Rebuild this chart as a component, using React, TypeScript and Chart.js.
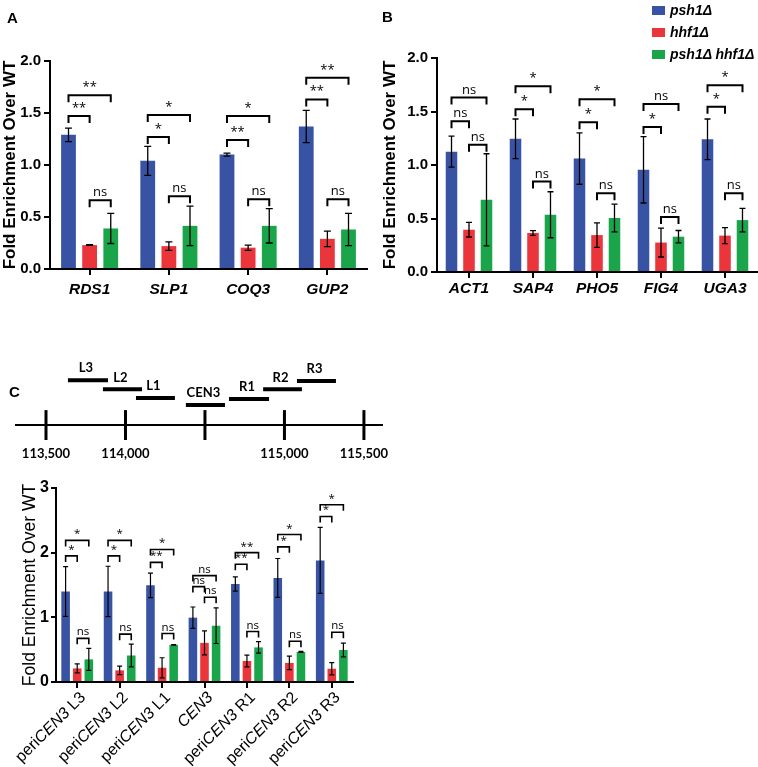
import React, { useEffect, useRef } from 'react';
import { Chart, registerables } from 'chart.js';

Chart.register(...registerables);
Chart.defaults.color = '#000';

const SANS = "'Liberation Sans', Arial, Helvetica, sans-serif";
const SIG_FONT = "'Open Sans', 'Liberation Sans', sans-serif";
const DIAG_FONT = "Lato, 'Open Sans', sans-serif";

const COLORS = ['#3853a4', '#ea353b', '#1ba54b'];
const SERIES = ['psh1Δ', 'hhf1Δ', 'psh1Δ hhf1Δ'];
// comparison pairs: psh1Δ vs hhf1Δ, psh1Δ vs double, hhf1Δ vs double
const PAIRS = [[0, 1], [0, 2], [1, 2]];

// ---------- Panel A ----------
const A_CATEGORIES = ['RDS1', 'SLP1', 'COQ3', 'GUP2'];
const A_PSH1 = [1.29, 1.04, 1.1, 1.37];
const A_PSH1_ERR = [0.065, 0.14, 0.015, 0.155];
const A_HHF1 = [0.23, 0.22, 0.205, 0.29];
const A_HHF1_ERR = [0.003, 0.04, 0.025, 0.075];
const A_DOUBLE = [0.39, 0.415, 0.415, 0.38];
const A_DOUBLE_ERR = [0.145, 0.19, 0.165, 0.155];
const A_SIG = [['**', '**', 'ns'], ['*', '*', 'ns'], ['**', '*', 'ns'], ['**', '**', 'ns']];
const A_SIG_Y = [[1.47, 1.67, 0.66], [1.27, 1.48, 0.7], [1.24, 1.47, 0.67], [1.63, 1.84, 0.67]];

// ---------- Panel B ----------
const B_CATEGORIES = ['ACT1', 'SAP4', 'PHO5', 'FIG4', 'UGA3'];
const B_PSH1 = [1.125, 1.245, 1.06, 0.955, 1.24];
const B_PSH1_ERR = [0.145, 0.185, 0.24, 0.31, 0.19];
const B_HHF1 = [0.395, 0.365, 0.345, 0.275, 0.34];
const B_HHF1_ERR = [0.068, 0.022, 0.115, 0.135, 0.075];
const B_DOUBLE = [0.675, 0.535, 0.505, 0.33, 0.485];
const B_DOUBLE_ERR = [0.43, 0.215, 0.13, 0.058, 0.11];
const B_SIG = [['ns', 'ns', 'ns'], ['*', '*', 'ns'], ['*', '*', 'ns'], ['*', 'ns', 'ns'], ['*', '*', 'ns']];
const B_SIG_Y = [[1.41, 1.63, 1.19], [1.52, 1.735, 0.845], [1.4, 1.615, 0.735], [1.355, 1.57, 0.515], [1.545, 1.745, 0.735]];

// ---------- Panel C (bars) ----------
const C_CATEGORIES = ['periCEN3 L3', 'periCEN3 L2', 'periCEN3 L1', 'CEN3', 'periCEN3 R1', 'periCEN3 R2', 'periCEN3 R3'];
const C_PSH1 = [1.4, 1.4, 1.495, 0.995, 1.515, 1.61, 1.88];
const C_PSH1_ERR = [0.385, 0.39, 0.19, 0.165, 0.11, 0.3, 0.51];
const C_HHF1 = [0.21, 0.18, 0.22, 0.605, 0.325, 0.295, 0.205];
const C_HHF1_ERR = [0.07, 0.065, 0.155, 0.185, 0.09, 0.105, 0.095];
const C_DOUBLE = [0.35, 0.41, 0.575, 0.87, 0.535, 0.465, 0.495];
const C_DOUBLE_ERR = [0.17, 0.175, 0.005, 0.275, 0.09, 0.008, 0.105];
const C_SIG = [['*', '*', 'ns'], ['*', '*', 'ns'], ['**', '*', 'ns'], ['ns', 'ns', 'ns'], ['**', '**', 'ns'], ['*', '*', 'ns'], ['*', '*', 'ns']];
const C_SIG_Y = [[1.95, 2.19, 0.675], [1.95, 2.19, 0.74], [1.85, 2.05, 0.75], [1.475, 1.645, 1.31], [1.82, 2.0, 0.78], [2.09, 2.28, 0.63], [2.56, 2.74, 0.77]];

// ---------- Panel C (locus diagram, bp coordinates) ----------
const DIAG_TICKS = [113500, 114000, 114500, 115000, 115500];
const DIAG_TICK_LABELS = [113500, 114000, 115000, 115500];
const DIAG_NAMES = ['L3', 'L2', 'L1', 'CEN3', 'R1', 'R2', 'R3'];
const DIAG_START = [113638, 113858, 114066, 114380, 114651, 114866, 115079];
const DIAG_END = [113890, 114104, 114311, 114626, 114903, 115110, 115324];
const DIAG_TIER = [5.4, 4.3, 3.25, 2.4, 3.15, 4.3, 5.3];

type Box = { left: number; top: number; width: number; height: number };
type Spec = {
  box: Box;
  categories: string[];
  values: number[][];
  errors: number[][];
  sig: string[][];
  sigY: number[][];
  padding: { top: number; right: number; left: number; bottom: number };
  yAxisWidth: number;
  xAxisHeight: number;
  yMax: number;
  yStep: number;
  yDecimals: number;
  catPct: number;
  barPct: number;
  cap: number;
  errWidth: number;
  bracketWidth: number;
  leg: number;
  sigSize: number;
  sigGap: number;
  yTickSize: number;
  yTickLen: number;
  yTickPad: number;
  xTickSize: number;
  xTickPad: number;
  titleWeight: string;
  titleSize: number;
  titlePad: number;
  customX: boolean;
};

const SPEC_A: Spec = {
  box: { left: 0, top: 0, width: 375, height: 300 },
  categories: A_CATEGORIES,
  values: [A_PSH1, A_HHF1, A_DOUBLE],
  errors: [A_PSH1_ERR, A_HHF1_ERR, A_DOUBLE_ERR],
  sig: A_SIG,
  sigY: A_SIG_Y,
  padding: { top: 61, right: 8, left: 0, bottom: 0 },
  yAxisWidth: 50,
  xAxisHeight: 31,
  yMax: 2,
  yStep: 0.5,
  yDecimals: 1,
  catPct: 0.8,
  barPct: 0.7,
  cap: 3.5,
  errWidth: 1.3,
  bracketWidth: 2,
  leg: 7,
  sigSize: 13,
  sigGap: 4,
  yTickSize: 15,
  yTickLen: 6,
  yTickPad: 3,
  xTickSize: 15.5,
  xTickPad: 5,
  titleWeight: 'bold',
  titleSize: 17,
  titlePad: 0,
  customX: false,
};

const SPEC_B: Spec = {
  ...SPEC_A,
  box: { left: 380, top: 0, width: 378, height: 300 },
  categories: B_CATEGORIES,
  values: [B_PSH1, B_HHF1, B_DOUBLE],
  errors: [B_PSH1_ERR, B_HHF1_ERR, B_DOUBLE_ERR],
  sig: B_SIG,
  sigY: B_SIG_Y,
  padding: { top: 58, right: 1, left: 0, bottom: 0 },
  yAxisWidth: 57,
  xAxisHeight: 28,
  catPct: 0.82,
  barPct: 0.66,
  cap: 3,
  xTickPad: 1,
};

const SPEC_C: Spec = {
  box: { left: 0, top: 470, width: 370, height: 297 },
  categories: C_CATEGORIES,
  values: [C_PSH1, C_HHF1, C_DOUBLE],
  errors: [C_PSH1_ERR, C_HHF1_ERR, C_DOUBLE_ERR],
  sig: C_SIG,
  sigY: C_SIG_Y,
  padding: { top: 18, right: 17, left: 0, bottom: 0 },
  yAxisWidth: 56,
  xAxisHeight: 85,
  yMax: 3,
  yStep: 1,
  yDecimals: 0,
  catPct: 0.82,
  barPct: 0.74,
  cap: 2.5,
  errWidth: 1.2,
  bracketWidth: 1.6,
  leg: 6,
  sigSize: 11.5,
  sigGap: 3,
  yTickSize: 16,
  yTickLen: 5,
  yTickPad: 2,
  xTickSize: 16,
  xTickPad: 0,
  titleWeight: 'normal',
  titleSize: 17.5,
  titlePad: 20,
  customX: true,
};

function splitLabel(label: string) {
  const idx = label.indexOf('CEN3');
  if (idx < 0) return [{ text: label, italic: false }];
  const parts = [] as { text: string; italic: boolean }[];
  if (idx > 0) parts.push({ text: label.slice(0, idx), italic: false });
  parts.push({ text: 'CEN3', italic: true });
  const rest = label.slice(idx + 4);
  if (rest) parts.push({ text: rest, italic: false });
  return parts;
}

function buildBarChart(canvas: HTMLCanvasElement, s: Spec) {
  const errorBars = {
    id: 'errorBars',
    afterDatasetsDraw(chart: any) {
      const ctx = chart.ctx;
      const y = chart.scales.y;
      ctx.save();
      ctx.strokeStyle = '#000';
      ctx.lineWidth = s.errWidth;
      s.values.forEach((vals, i) => {
        const meta = chart.getDatasetMeta(i);
        meta.data.forEach((bar: any, j: number) => {
          const v = vals[j];
          const e = s.errors[i][j];
          const top = y.getPixelForValue(v + e);
          const bot = y.getPixelForValue(v - e);
          const x = bar.x;
          ctx.beginPath();
          ctx.moveTo(x, top);
          ctx.lineTo(x, bot);
          ctx.moveTo(x - s.cap, top);
          ctx.lineTo(x + s.cap, top);
          ctx.moveTo(x - s.cap, bot);
          ctx.lineTo(x + s.cap, bot);
          ctx.stroke();
        });
      });
      ctx.restore();
    },
  };
  const brackets = {
    id: 'brackets',
    afterDatasetsDraw(chart: any) {
      const ctx = chart.ctx;
      const y = chart.scales.y;
      ctx.save();
      ctx.strokeStyle = '#000';
      ctx.fillStyle = '#000';
      ctx.lineWidth = s.bracketWidth;
      ctx.lineJoin = 'miter';
      ctx.font = `${s.sigSize}px ${SIG_FONT}`;
      ctx.textAlign = 'center';
      ctx.textBaseline = 'alphabetic';
      s.sig.forEach((labels, j) => {
        labels.forEach((lab, k) => {
          const [a, b] = PAIRS[k];
          const xa = chart.getDatasetMeta(a).data[j].x;
          const xb = chart.getDatasetMeta(b).data[j].x;
          const py = y.getPixelForValue(s.sigY[j][k]);
          ctx.beginPath();
          ctx.moveTo(xa, py + s.leg);
          ctx.lineTo(xa, py);
          ctx.lineTo(xb, py);
          ctx.lineTo(xb, py + s.leg);
          ctx.stroke();
          ctx.fillText(lab, (xa + xb) / 2, py - s.sigGap);
        });
      });
      ctx.restore();
    },
  };
  const rotatedLabels = {
    id: 'rotatedLabels',
    afterDraw(chart: any) {
      if (!s.customX) return;
      const ctx = chart.ctx;
      const xs = chart.scales.x;
      ctx.save();
      ctx.fillStyle = '#000';
      ctx.textBaseline = 'middle';
      ctx.textAlign = 'left';
      s.categories.forEach((lab, i) => {
        const x = xs.getPixelForTick(i);
        const parts = splitLabel(lab);
        const fonts = parts.map((p) => `${p.italic ? 'italic ' : ''}${s.xTickSize}px ${SANS}`);
        let total = 0;
        const widths = parts.map((p, k) => {
          ctx.font = fonts[k];
          const w = ctx.measureText(p.text).width;
          total += w;
          return w;
        });
        ctx.save();
        ctx.translate(x + 6, xs.top + 13);
        ctx.rotate(-Math.PI / 4);
        let cur = -total;
        parts.forEach((p, k) => {
          ctx.font = fonts[k];
          ctx.fillText(p.text, cur, 0);
          cur += widths[k];
        });
        ctx.restore();
      });
      ctx.restore();
    },
  };

  return new Chart(canvas, {
    type: 'bar',
    data: {
      labels: s.categories,
      datasets: s.values.map((vals, i) => ({
        label: SERIES[i],
        data: vals,
        backgroundColor: COLORS[i],
        borderWidth: 0,
        categoryPercentage: s.catPct,
        barPercentage: s.barPct,
      })),
    },
    options: {
      responsive: false,
      animation: false,
      devicePixelRatio: 1,
      layout: { padding: s.padding },
      plugins: { legend: { display: false }, tooltip: { enabled: false } },
      scales: {
        x: {
          grid: {
            display: true,
            drawOnChartArea: false,
            drawTicks: true,
            offset: false,
            tickLength: 6,
            color: '#000',
            lineWidth: 2,
          },
          border: { display: true, color: '#000', width: 2 },
          ticks: {
            display: !s.customX,
            autoSkip: false,
            maxRotation: 0,
            minRotation: 0,
            padding: s.xTickPad,
            color: '#000',
            font: { family: SANS, size: s.xTickSize, weight: 'bold', style: 'italic' },
          },
          afterFit: (scale: any) => {
            scale.height = s.xAxisHeight;
          },
        },
        y: {
          min: 0,
          max: s.yMax,
          grid: {
            display: true,
            drawOnChartArea: false,
            drawTicks: true,
            tickLength: s.yTickLen,
            color: '#000',
            lineWidth: 2,
          },
          border: { display: true, color: '#000', width: 2 },
          ticks: {
            stepSize: s.yStep,
            padding: s.yTickPad,
            color: '#000',
            font: { family: SANS, size: s.yTickSize, weight: 'bold' },
            callback: (v: any) => Number(v).toFixed(s.yDecimals),
          },
          title: {
            display: true,
            text: 'Fold Enrichment Over WT',
            color: '#000',
            padding: { top: s.titlePad, bottom: 0 },
            font: { family: SANS, size: s.titleSize, weight: s.titleWeight as any },
          },
          afterFit: (scale: any) => {
            scale.width = s.yAxisWidth;
          },
        },
      },
    } as any,
    plugins: [errorBars, brackets, rotatedLabels],
  });
}

function BarPanel({ spec }: { spec: Spec }) {
  const ref = useRef<HTMLCanvasElement>(null);
  useEffect(() => {
    const chart = buildBarChart(ref.current as HTMLCanvasElement, spec);
    return () => chart.destroy();
  }, [spec]);
  const b = spec.box;
  return (
    <canvas
      ref={ref}
      width={b.width}
      height={b.height}
      style={{ position: 'absolute', left: b.left, top: b.top, width: b.width, height: b.height }}
    />
  );
}

const DIAG_BOX: Box = { left: 0, top: 350, width: 420, height: 115 };
const DIAG_X_MIN = 113305;
const DIAG_X_MAX = 115620;

function LocusDiagram() {
  const ref = useRef<HTMLCanvasElement>(null);
  useEffect(() => {
    const black = '#000';
    const datasets: any[] = [];
    datasets.push({
      data: [{ x: DIAG_X_MIN, y: 0 }, { x: DIAG_X_MAX, y: 0 }],
      borderColor: black,
      borderWidth: 2,
    });
    DIAG_TICKS.forEach((t) => {
      datasets.push({
        data: [{ x: t, y: -1.8 }, { x: t, y: 1.8 }],
        borderColor: black,
        borderWidth: 3,
      });
    });
    DIAG_NAMES.forEach((_, i) => {
      datasets.push({
        data: [{ x: DIAG_START[i], y: DIAG_TIER[i] }, { x: DIAG_END[i], y: DIAG_TIER[i] }],
        borderColor: black,
        borderWidth: 4,
      });
    });
    const segLabels = {
      id: 'segLabels',
      afterDatasetsDraw(chart: any) {
        const ctx = chart.ctx;
        const xs = chart.scales.x;
        const ys = chart.scales.y;
        ctx.save();
        ctx.fillStyle = black;
        ctx.font = `bold 13px ${DIAG_FONT}`;
        ctx.textAlign = 'center';
        ctx.textBaseline = 'middle';
        DIAG_NAMES.forEach((n, i) => {
          const cx = xs.getPixelForValue((DIAG_START[i] + DIAG_END[i]) / 2);
          const cy = ys.getPixelForValue(DIAG_TIER[i]);
          ctx.fillText(n, cx - 2, cy - 12);
        });
        ctx.restore();
      },
    };
    const chart = new Chart(ref.current as HTMLCanvasElement, {
      type: 'scatter',
      data: { datasets },
      options: {
        responsive: false,
        animation: false,
        devicePixelRatio: 1,
        layout: { padding: { left: 15, right: 37, top: 10, bottom: 0 } },
        elements: { point: { radius: 0 }, line: { borderCapStyle: 'butt' } },
        datasets: { scatter: { showLine: true, pointRadius: 0 } },
        plugins: { legend: { display: false }, tooltip: { enabled: false } },
        scales: {
          x: {
            type: 'linear',
            min: DIAG_X_MIN,
            max: DIAG_X_MAX,
            grid: { display: false, drawTicks: false },
            border: { display: false },
            ticks: {
              autoSkip: false,
              maxRotation: 0,
              padding: 6,
              color: black,
              font: { family: DIAG_FONT, size: 13, weight: 'bold' },
              callback: (v: any) => Number(v).toLocaleString('en-US'),
            },
            afterBuildTicks: (scale: any) => {
              scale.ticks = DIAG_TICK_LABELS.map((v) => ({ value: v }));
            },
            afterFit: (scale: any) => {
              scale.height = 25;
            },
          },
          y: { display: false, min: -1.8, max: 7.83 },
        },
      } as any,
      plugins: [segLabels],
    });
    return () => chart.destroy();
  }, []);
  const b = DIAG_BOX;
  return (
    <canvas
      ref={ref}
      width={b.width}
      height={b.height}
      style={{ position: 'absolute', left: b.left, top: b.top, width: b.width, height: b.height }}
    />
  );
}

const LEGEND_ROWS = [10, 32, 54];

export default function App() {
  const letter = (t: string, left: number, top: number) => (
    <div
      style={{
        position: 'absolute',
        left,
        top,
        fontFamily: SANS,
        fontWeight: 'bold',
        fontSize: 15,
        lineHeight: '16px',
        color: '#000',
      }}
    >
      {t}
    </div>
  );
  return (
    <div
      style={{
        position: 'absolute',
        left: 0,
        top: 0,
        width: 758,
        height: 767,
        background: '#fff',
        overflow: 'hidden',
      }}
    >
      <BarPanel spec={SPEC_A} />
      <BarPanel spec={SPEC_B} />
      <LocusDiagram />
      <BarPanel spec={SPEC_C} />
      {letter('A', 7, 10)}
      {letter('B', 382, 9)}
      {letter('C', 9, 384)}
      {SERIES.map((name, i) => (
        <div
          key={name}
          style={{ position: 'absolute', left: 652, top: LEGEND_ROWS[i] - 8, height: 16, display: 'flex', alignItems: 'center' }}
        >
          <div style={{ width: 13, height: 9, background: COLORS[i], marginRight: 5 }} />
          <span style={{ fontFamily: SANS, fontWeight: 'bold', fontStyle: 'italic', fontSize: 14, color: '#000', whiteSpace: 'nowrap' }}>
            {name}
          </span>
        </div>
      ))}
    </div>
  );
}
